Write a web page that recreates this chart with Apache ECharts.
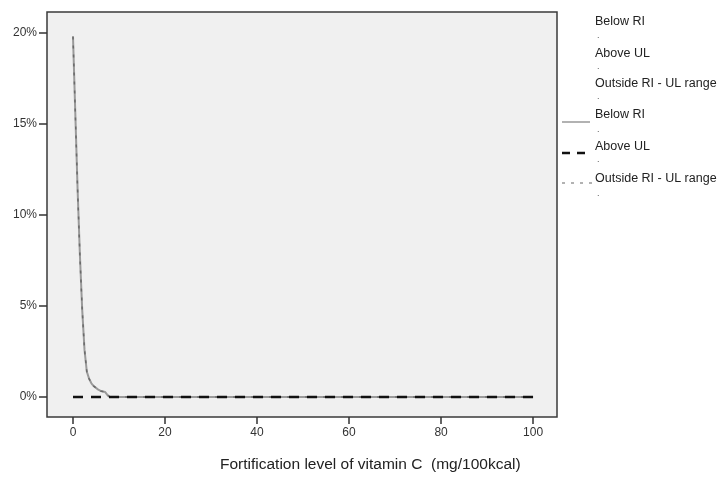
<!DOCTYPE html>
<html><head><meta charset="utf-8">
<script src="https://cdn.jsdelivr.net/npm/echarts@6/dist/echarts.min.js"></script>
<style>html,body{margin:0;padding:0;background:#fff}#c{width:721px;height:478px}</style>
</head><body><div id="c"></div>
<script>
// Fortification level (mg/100kcal) and share of population (%)
var belowRI_x = [0, 0.5, 1, 1.5, 2, 2.5, 3, 3.5, 4, 4.5, 5, 5.5, 6, 6.5, 7, 7.5, 8, 20, 40, 60, 80, 100];
var belowRI_y = [19.8, 15.6, 11.4, 7.8, 4.8, 2.6, 1.4, 1.0, 0.75, 0.6, 0.5, 0.4, 0.33, 0.3, 0.27, 0.1, 0, 0, 0, 0, 0, 0];
var aboveUL_x = [0, 20, 40, 60, 80, 100];
var aboveUL_y = [0, 0, 0, 0, 0, 0];
var outside_x = belowRI_x;
var outside_y = [19.8, 15.6, 11.4, 7.8, 4.8, 2.6, 1.4, 1.0, 0.75, 0.6, 0.5, 0.4, 0.33, 0.3, 0.27, 0.1, 0, 0, 0, 0, 0, 0];
var xTicks = [0, 20, 40, 60, 80, 100];
var yTicks = [0, 5, 10, 15, 20];
var legendNames = ['Below RI', 'Above UL', 'Outside RI - UL range'];
var xTitle = 'Fortification level of vitamin C  (mg/100kcal)';

function pairs(xs, ys) { return xs.map(function (x, i) { return [x, ys[i]]; }); }

var font = 'Liberation Sans, Arial, sans-serif';
var chart = echarts.init(document.getElementById('c'), null, { renderer: 'canvas' });

var legendGraphics = [];
var textTops = [23, 55, 85, 116, 148, 180];
var dotTops = [39, 70, 100, 133, 163, 197];
for (var i = 0; i < 6; i++) {
  legendGraphics.push({
    type: 'text', left: 595, top: textTops[i] - 8,
    style: { text: legendNames[i % 3], font: '12.5px ' + font, fill: '#222' }
  });
  legendGraphics.push({
    type: 'text', left: 597, top: dotTops[i] - 8,
    style: { text: '.', font: '9px ' + font, fill: '#555' }
  });
}
legendGraphics.push({ type: 'line', shape: { x1: 562, y1: 122, x2: 590, y2: 122 }, style: { stroke: '#999', lineWidth: 1.5 } });
legendGraphics.push({ type: 'line', shape: { x1: 562, y1: 153, x2: 590, y2: 153 }, style: { stroke: '#111', lineWidth: 2.5, lineDash: [8, 7] } });
legendGraphics.push({ type: 'line', shape: { x1: 562, y1: 183, x2: 592, y2: 183 }, style: { stroke: '#999', lineWidth: 1.5, lineDash: [3, 6] } });
legendGraphics.push({
  type: 'text', left: 220, top: 457,
  style: { text: xTitle, font: '15.5px ' + font, fill: '#222' }
});

chart.setOption({
  animation: false,
  backgroundColor: '#ffffff',
  grid: {
    left: 47, right: 164, top: 12, bottom: 61,
    show: true, backgroundColor: '#f0f0f0', borderColor: '#3a3a3a', borderWidth: 1.5,
    containLabel: false
  },
  xAxis: {
    type: 'value', min: -5.65, max: 105.2, position: 'bottom',
    axisLine: { show: false, onZero: false },
    splitLine: { show: false },
    axisTick: { show: true, inside: false, length: 7, lineStyle: { color: '#333', width: 1.5 }, customValues: xTicks },
    axisLabel: { color: '#333', fontSize: 12, fontFamily: font, margin: 10, customValues: xTicks }
  },
  yAxis: {
    type: 'value', min: -1.1, max: 21.15, position: 'left',
    axisLine: { show: false, onZero: false },
    splitLine: { show: false },
    axisTick: { show: true, inside: false, length: 8, lineStyle: { color: '#333', width: 1.5 }, customValues: yTicks },
    axisLabel: { color: '#333', fontSize: 12, fontFamily: font, margin: 10, customValues: yTicks,
      formatter: function (v) { return v + '%'; } }
  },
  series: [
    { name: 'Below RI', type: 'line', data: pairs(belowRI_x, belowRI_y), symbol: 'none', smooth: false,
      lineStyle: { color: '#9a9a9a', width: 2 }, z: 2 },
    { name: 'Outside RI - UL range', type: 'line', data: pairs(outside_x, outside_y), symbol: 'none',
      lineStyle: { color: '#6a6a6a', width: 1.5, type: [3, 6] }, z: 3 },
    { name: 'Above UL', type: 'line', data: pairs(aboveUL_x, aboveUL_y), symbol: 'none',
      lineStyle: { color: '#111', width: 2.5, type: [10, 8] }, z: 4 }
  ],
  graphic: legendGraphics
});
</script></body></html>
